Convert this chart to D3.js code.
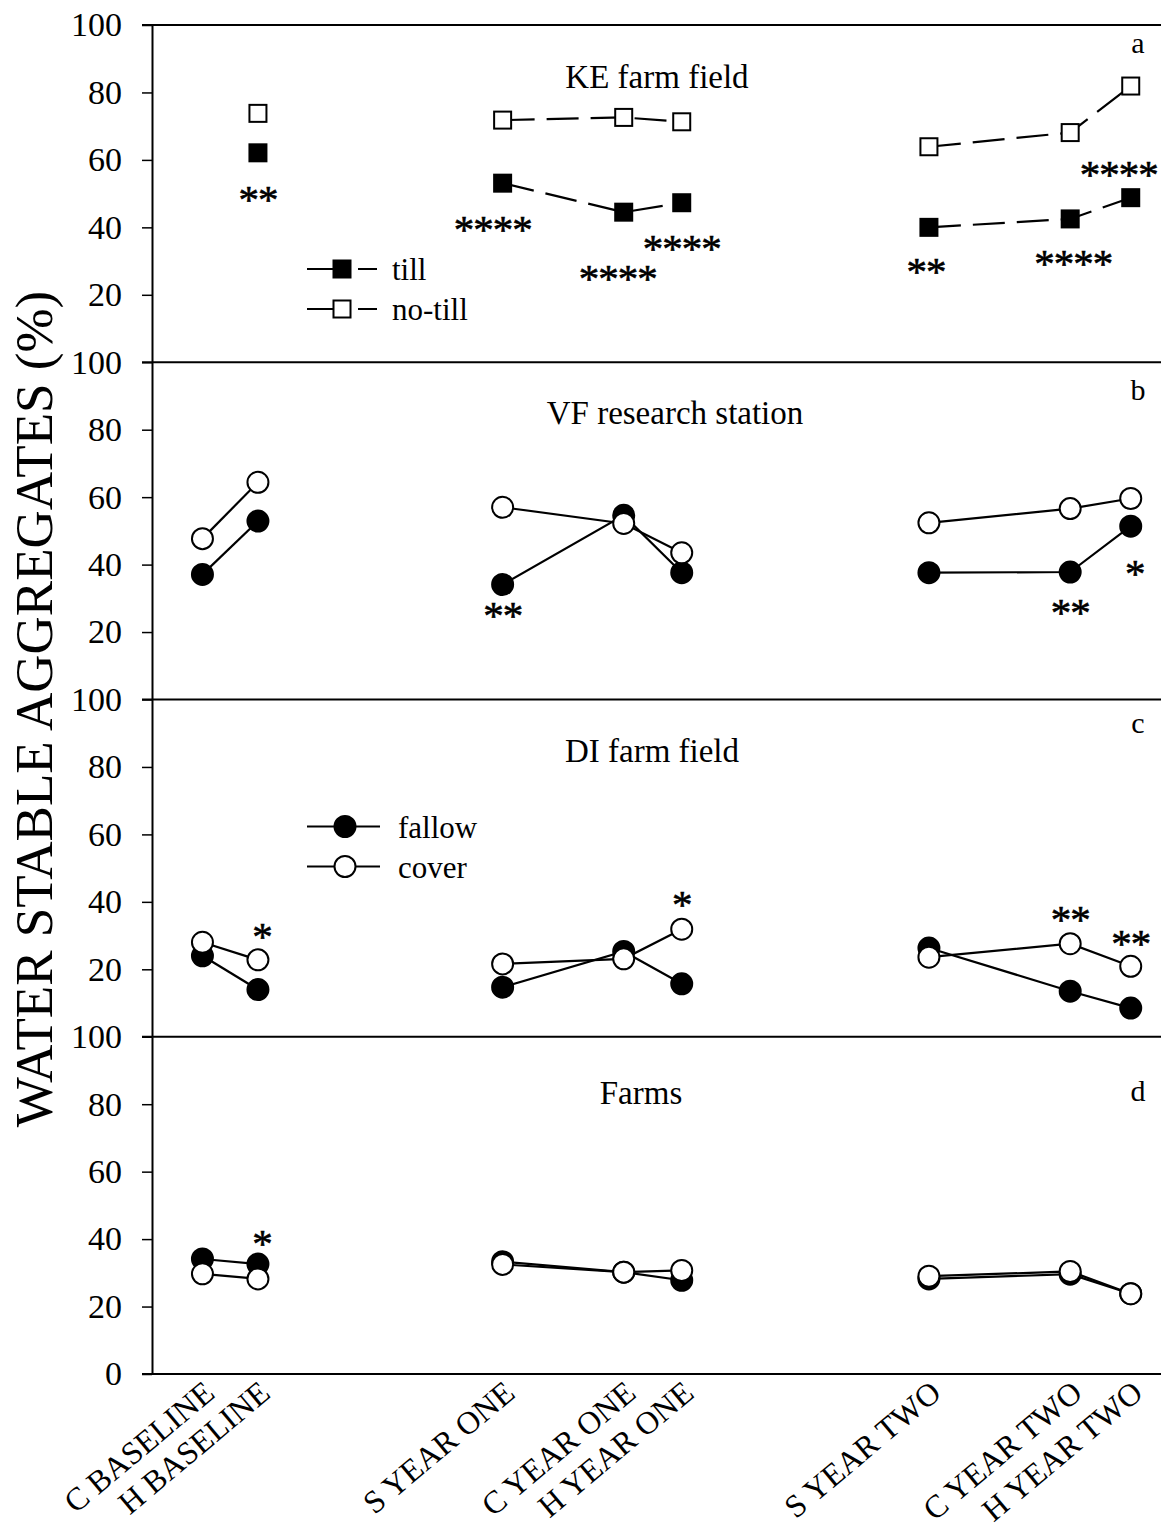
<!DOCTYPE html>
<html>
<head>
<meta charset="utf-8">
<script src="https://cdn.jsdelivr.net/npm/d3@7"></script>
<style>
  body { margin: 0; background: #fff; }
  svg text { font-family: "Liberation Serif", "Times New Roman", serif; fill: #000; }
</style>
</head>
<body>
<div id="chart"></div>
<script>
// sampling dates (C = cold season, H = hot, S = spring), months from start
const samples = ["C BASELINE", "H BASELINE", "S YEAR ONE", "C YEAR ONE", "H YEAR ONE",
                 "S YEAR TWO", "C YEAR TWO", "H YEAR TWO"];
const sampleMonth = [2.0, 4.2, 13.9, 18.7, 21.0, 30.8, 36.4, 38.8];

// water stable aggregates (%)
const keTill      = [null, 62.1, 53.1, 44.5, 47.3, 40.0, 42.5, 48.8];
const keNoTill    = [null, 73.8, 71.8, 72.6, 71.3, 63.9, 68.1, 81.9];
const vfFallow    = [37.1, 52.9, 34.1, 54.6, 37.6, 37.6, 37.8, 51.4];
const vfCover     = [47.7, 64.4, 57.0, 52.2, 43.5, 52.4, 56.6, 59.6];
const diFallow    = [24.0, 14.0, 14.7, 25.3, 15.7, 26.3, 13.5, 8.5];
const diCover     = [28.0, 22.8, 21.6, 23.1, 31.9, 23.6, 27.6, 20.9];
const farmsFallow = [34.1, 32.6, 33.3, 30.2, 27.8, 28.2, 29.6, 23.8];
const farmsCover  = [29.7, 28.2, 32.5, 30.2, 30.7, 29.0, 30.4, 23.8];

// samples joined by a line
const groups = [[0, 1], [2, 3, 4], [5, 6, 7]];

// significance marks: panel, sample index, height (%), text
const stars = [
    {p: 0, i: 1, v: 50.2, t: "**"},
    {p: 0, i: 2, v: 41.3, t: "****", dx: -10},
    {p: 0, i: 3, v: 26.7, t: "****", dx: -6},
    {p: 0, i: 4, v: 35.6, t: "****"},
    {p: 0, i: 5, v: 28.7, t: "**", dx: -3},
    {p: 0, i: 6, v: 31.1, t: "****", dx: 3},
    {p: 0, i: 7, v: 57.5, t: "****", dx: -12},
    {p: 1, i: 2, v: 26.7, t: "**"},
    {p: 1, i: 6, v: 27.6, t: "**"},
    {p: 1, i: 7, v: 39.2, t: "*", dx: 4},
    {p: 2, i: 1, v: 31.7, t: "*", dx: 4},
    {p: 2, i: 4, v: 41.2, t: "*"},
    {p: 2, i: 6, v: 36.7, t: "**"},
    {p: 2, i: 7, v: 29.7, t: "**"},
    {p: 3, i: 1, v: 40.5, t: "*", dx: 4}
];

const panels = [
    {title: "KE farm field", letter: "a", marker: "square", dashed: true,
     series: [{name: "till", values: keTill, filled: true}, {name: "no-till", values: keNoTill, filled: false}],
     titleX: 657, titleDy: 63, letterDy: 28},
    {title: "VF research station", letter: "b", marker: "circle", dashed: false,
     series: [{name: "fallow", values: vfFallow, filled: true}, {name: "cover", values: vfCover, filled: false}],
     titleX: 675, titleDy: 62, letterDy: 38},
    {title: "DI farm field", letter: "c", marker: "circle", dashed: false,
     series: [{name: "fallow", values: diFallow, filled: true}, {name: "cover", values: diCover, filled: false}],
     titleX: 652, titleDy: 62, letterDy: 33},
    {title: "Farms", letter: "d", marker: "circle", dashed: false,
     series: [{name: "fallow", values: farmsFallow, filled: true}, {name: "cover", values: farmsCover, filled: false}],
     titleX: 641, titleDy: 67, letterDy: 64}
];

const width = 1161, height = 1528;
const margin = {top: 25, right: 0, bottom: 154, left: 152};
const panelH = (height - margin.top - margin.bottom) / panels.length;

const svg = d3.select("#chart").append("svg")
    .attr("width", width)
    .attr("height", height);

const xScale = d3.scaleLinear()
    .domain([0, 40])
    .range([margin.left, width - margin.right]);

function drawMarker(g, shape, cx, cy, filled) {
    if (shape === "square") {
        g.append("rect")
            .attr("x", cx - 8.5).attr("y", cy - 8.5)
            .attr("width", 17).attr("height", 17)
            .attr("fill", filled ? "#000" : "#fff")
            .attr("stroke", "#000").attr("stroke-width", 2);
    } else {
        g.append("circle")
            .attr("cx", cx).attr("cy", cy).attr("r", 10.5)
            .attr("fill", filled ? "#000" : "#fff")
            .attr("stroke", "#000").attr("stroke-width", 2);
    }
}

panels.forEach(function(p, k) {
    const top = margin.top + k * panelH;
    const yScale = d3.scaleLinear().domain([0, 100]).range([top + panelH, top]);
    const ticks = k === panels.length - 1 ? [0, 20, 40, 60, 80, 100] : [20, 40, 60, 80, 100];

    const axis = svg.append("g")
        .attr("transform", `translate(${margin.left},0)`)
        .call(d3.axisLeft(yScale).tickValues(ticks).tickSize(10).tickPadding(20).tickSizeOuter(0));
    axis.select(".domain").attr("stroke-width", 2);
    axis.selectAll(".tick line").attr("stroke-width", 1.5);
    axis.selectAll(".tick text")
        .attr("font-family", "Liberation Serif, Times New Roman, serif")
        .attr("font-size", 34);

    // panel frame lines
    svg.append("line")
        .attr("x1", margin.left - 10).attr("x2", width)
        .attr("y1", yScale(100)).attr("y2", yScale(100))
        .attr("stroke", "#000").attr("stroke-width", 2);
    if (k === panels.length - 1) {
        svg.append("line")
            .attr("x1", margin.left - 10).attr("x2", width)
            .attr("y1", yScale(0)).attr("y2", yScale(0))
            .attr("stroke", "#000").attr("stroke-width", 2);
    }

    svg.append("text")
        .attr("x", p.titleX).attr("y", top + p.titleDy)
        .attr("text-anchor", "middle")
        .attr("font-size", 33)
        .text(p.title);

    svg.append("text")
        .attr("x", 1138).attr("y", top + p.letterDy)
        .attr("text-anchor", "middle")
        .attr("font-size", 30)
        .text(p.letter);

    const line = d3.line()
        .defined(d => d.v != null)
        .x(d => xScale(d.x))
        .y(d => yScale(d.v));

    p.series.forEach(function(s) {
        groups.forEach(function(grp) {
            const pts = grp.map(i => ({x: sampleMonth[i], v: s.values[i]}));
            svg.append("path")
                .datum(pts)
                .attr("d", line)
                .attr("fill", "none")
                .attr("stroke", "#000")
                .attr("stroke-width", 2.2)
                .attr("stroke-dasharray", p.dashed ? "32,12" : null);
        });
    });

    p.series.forEach(function(s) {
        const g = svg.append("g");
        s.values.forEach(function(v, i) {
            if (v == null) return;
            drawMarker(g, p.marker, xScale(sampleMonth[i]), yScale(v), s.filled);
        });
    });

    stars.filter(d => d.p === k).forEach(function(d) {
        svg.append("text")
            .attr("x", xScale(sampleMonth[d.i]) + (d.dx || 0))
            .attr("y", yScale(d.v) + 20)
            .attr("text-anchor", "middle")
            .attr("font-size", 41)
            .attr("letter-spacing", -1)
            .attr("stroke", "#000")
            .attr("stroke-width", 0.6)
            .text(d.t);
    });
});

// legends
function legend(k, shape, dashed) {
    const top = margin.top + k * panelH;
    const rows = panels[k].series;
    const y0 = k === 0 ? top + 244 : top + 127;
    rows.forEach(function(s, j) {
        const cy = y0 + j * 40;
        svg.append("line")
            .attr("x1", 307).attr("x2", dashed ? 377 : 380)
            .attr("y1", cy).attr("y2", cy)
            .attr("stroke", "#000").attr("stroke-width", 2)
            .attr("stroke-dasharray", dashed ? "44,7,19" : null);
        drawMarker(svg, shape, dashed ? 342 : 345, cy, s.filled);
        svg.append("text")
            .attr("x", dashed ? 392 : 398).attr("y", cy + 11)
            .attr("font-size", 31)
            .text(s.name);
    });
}
legend(0, "square", true);
legend(2, "circle", false);

// x labels
const baseY = margin.top + panels.length * panelH;
samples.forEach(function(s, i) {
    svg.append("text")
        .attr("transform", `translate(${xScale(sampleMonth[i]) + 14},${baseY + 22}) rotate(-40)`)
        .attr("text-anchor", "end")
        .attr("font-size", 32)
        .text(s);
});

// y title
svg.append("text")
    .attr("transform", `translate(52,709) rotate(-90)`)
    .attr("text-anchor", "middle")
    .attr("font-size", 53)
    .text("WATER STABLE AGGREGATES (%)");
</script>
</body>
</html>
